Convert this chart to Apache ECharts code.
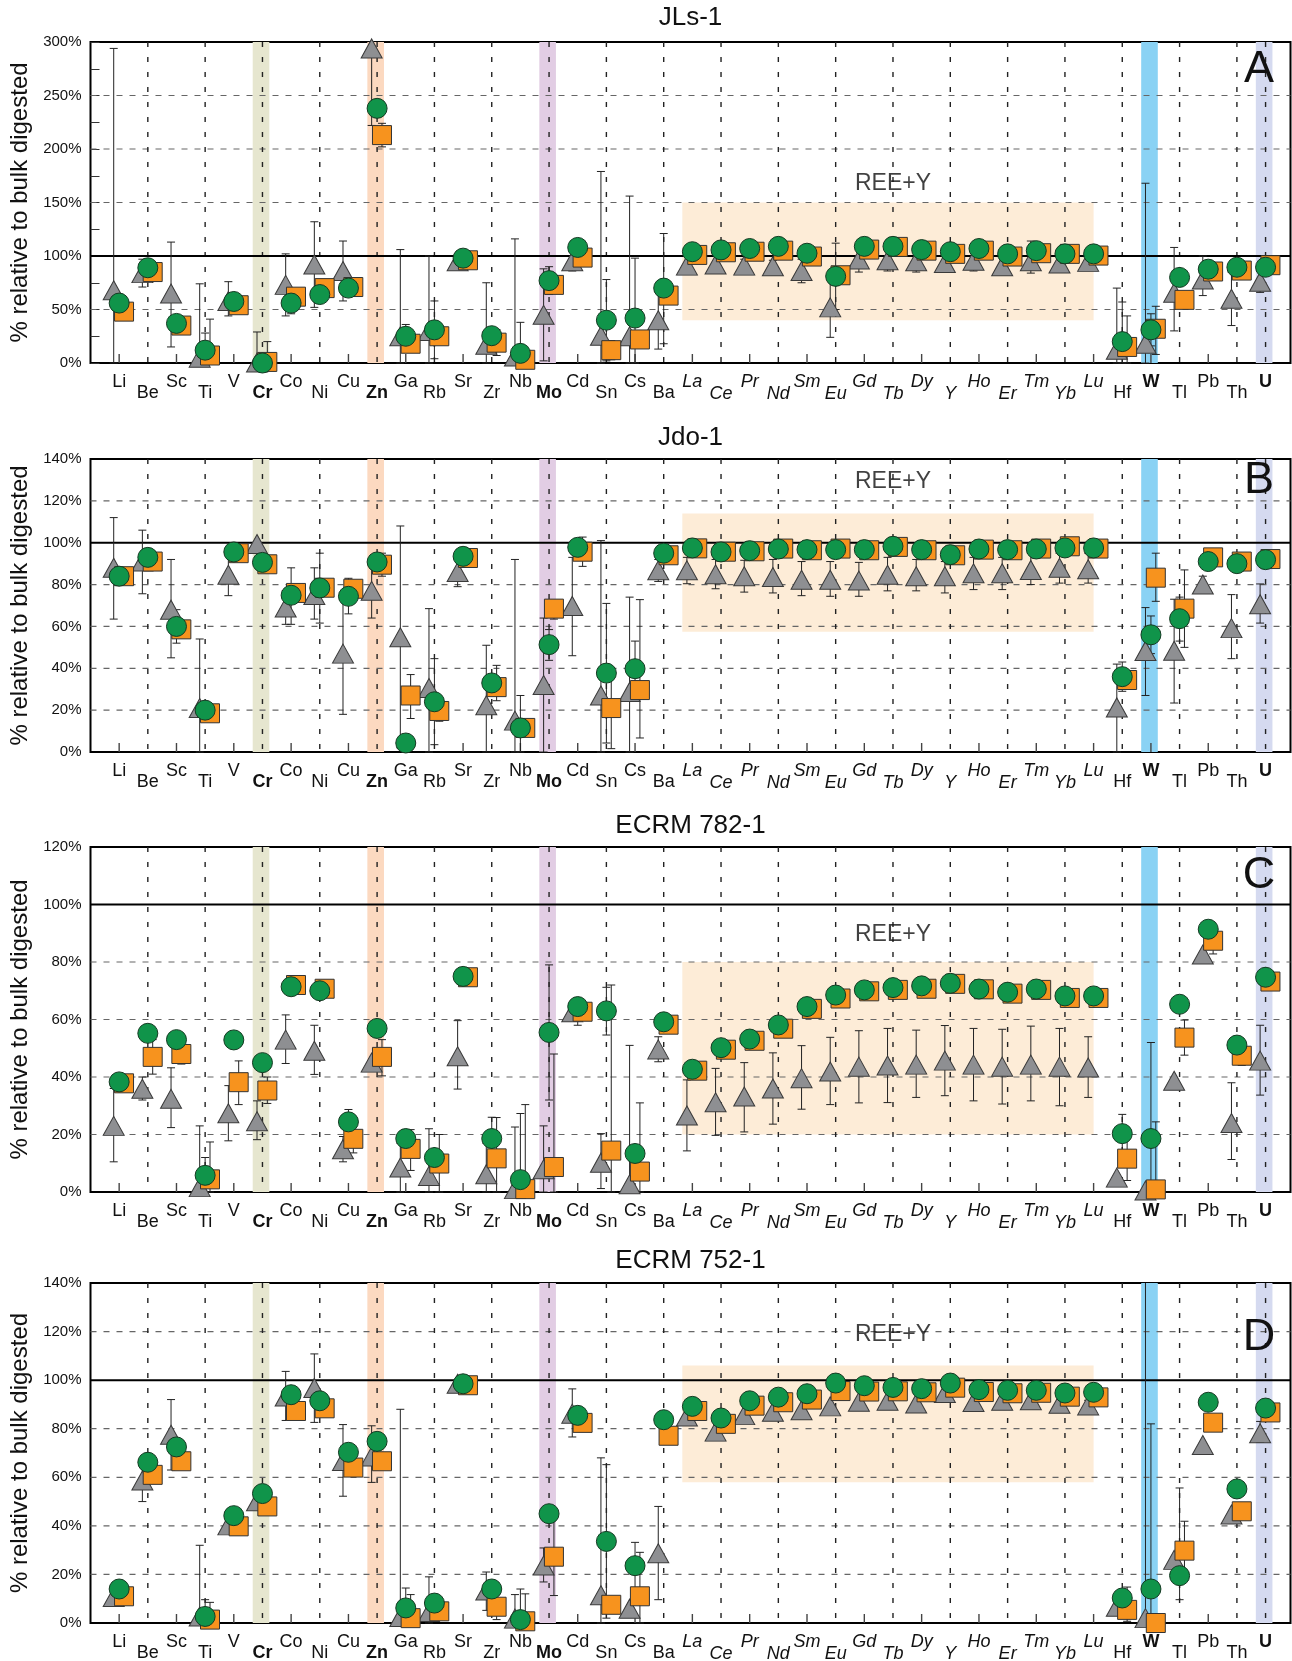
<!DOCTYPE html>
<html>
<head>
<meta charset="utf-8">
<script src="https://cdn.jsdelivr.net/npm/echarts@6/dist/echarts.min.js"></script>
<style>
  html, body { margin: 0; padding: 0; background: #fff; }
  #chart { width: 1292px; height: 1661px; }
</style>
</head>
<body>
<div id="chart"></div>
<script>
// Elements along the x axis
const elements = ['Li','Be','Sc','Ti','V','Cr','Co','Ni','Cu','Zn','Ga','Rb','Sr','Zr','Nb','Mo','Cd','Sn','Cs','Ba',
  'La','Ce','Pr','Nd','Sm','Eu','Gd','Tb','Dy','Y','Ho','Er','Tm','Yb','Lu','Hf','W','Tl','Pb','Th','U'];
const boldElements = ['Cr','Zn','Mo','W','U'];
const reeElements = ['La','Ce','Pr','Nd','Sm','Eu','Gd','Tb','Dy','Y','Ho','Er','Tm','Yb','Lu'];
const bandElements = ['Cr','Zn','Mo','W','U'];

// JLs-1 (% relative to bulk digested)
const jlsTri = [68, 84, 65, 5, 58, 0.5, 73, 92, 86, 294, 25, 30, 95, 17, 6, 45, 95, 25.5, 25, 40,
  91, 92, 91, 90.5, 86, 52, 96.7, 96, 95, 93.5, 95.5, 90.5, 95, 93, 94.5, 12.4, 18, 65.6, 78, 60, 76];
const jlsCir = [56, 89, 37, 12, 57.5, 0, 56, 64, 70, 238, 25, 31, 98, 25.5, 9, 77, 108, 40, 42, 70,
  104, 105.7, 107, 109, 102.6, 81, 109, 109, 106, 104, 107, 102, 105, 102, 102, 20, 31, 80, 87.7, 89.5, 89.5];
const jlsSq = [48, 85, 35, 7, 54, 1, 62, 70, 71, 213, 18, 25, 96, 19, 3, 73, 98.5, 12, 22, 63,
  101, 103.5, 104, 105, 99.5, 82, 106, 108.5, 105, 102, 105, 99.5, 102.6, 102, 100.4, 15, 32, 59, 85.5, 86.4, 91.4];
const jlsTriErr = {Li:[0,294], Be:[71,97], Sc:[15,113], Ti:[0,74], V:[44,76], Cr:[0,29], Co:[44,102], Ni:[52,132],
  Cu:[58,114], Zn:[222,366], Ga:[0,106], Rb:[0,100], Zr:[0,75], Nb:[0,116], Mo:[2,88], Cd:[86,104], Sn:[0,179],
  Cs:[0,156], Ba:[13,67], Pr:[85,97], Nd:[85,96], Sm:[75,97], Eu:[24,80], Gd:[85,108], Tb:[86,106], Dy:[85,105],
  Ho:[86,105], Tm:[84,114], Hf:[0,70], W:[0,168], Tl:[30,108], Pb:[63,100], Th:[35,85], U:[66,86]};
const jlsCirErr = {Ti:[0,28], Co:[46,66], Ga:[14,36], Rb:[4,58], Nb:[0,38], Mo:[64,90], Sn:[2,78], Cs:[0,98],
  Ba:[18,121], Eu:[50,112], Hf:[0,57], W:[16,46]};
const jlsSqErr = {Ti:[0,41], Cr:[0,20], Zn:[202,224], Zr:[7,31], Sn:[3,21], Hf:[0,44], W:[8,53]};

// Jdo-1
const jdoTri = [88, 91, 68, 21, 84.7, 99.4, 69, 75, 47, 77, 54.8, 30.6, 86, 22.3, 15, 32, 69.8, 27, 28.7, 86.8,
  86.8, 84.9, 84, 83.6, 82.3, 82.3, 81.9, 84.7, 84, 84, 85.4, 85.4, 87, 88, 87.3, 21.3, 48.3, 48.4, 80, 59.2, 70.6];
const jdoCir = [84, 93, 60, 20, 95.6, 90.6, 74.9, 78.4, 74.4, 90.8, 4.3, 24, 93.5, 33, 11.5, 51.3, 97.8, 37.7, 39.8, 95,
  97.5, 95.6, 96.2, 97, 96.7, 96.7, 96.7, 98.3, 96.7, 94.3, 97, 96.7, 97, 97.5, 97.5, 36, 56, 63.7, 91, 90, 91.9];
const jdoSq = [84, 91, 58.6, 18.5, 95, 89.7, 76, 78.5, 78, 89.5, 27, 19.6, 92.7, 31, 11.5, 68.5, 95.7, 21, 29.6, 94,
  97.3, 95.7, 95.9, 97.2, 96.4, 97.2, 96.4, 98, 96.4, 94, 96.7, 96.4, 97.2, 98.3, 97.2, 34.4, 83.3, 68.5, 93, 91, 92.2];
const jdoTriErr = {Li:[63.5,112], Be:[75.6,106], Sc:[45,92], Ti:[0,54], V:[74.7,94.7], Co:[61,77], Ni:[63.5,88],
  Cu:[18,76], Zn:[64,90], Ga:[2,108], Rb:[0,68.5], Sr:[79,93], Zr:[0,51], Nb:[0,92], Mo:[0,64], Cd:[46,93],
  Sn:[0,101], Cs:[0,74], Ba:[81.5,92], La:[80.4,93], Ce:[78,92], Pr:[76.4,91.6], Nd:[76,92], Sm:[74.7,91],
  Eu:[74.4,91], Gd:[74.4,90.6], Tb:[77,93], Dy:[77,92], Y:[76,91], Ho:[77.6,93], Er:[77.6,93], Tm:[80,95],
  Yb:[80.7,95], Lu:[80.7,95], Hf:[0,42], W:[27,69], Tl:[23.4,73], Pb:[76,84], Th:[44.6,75.2], U:[61.6,80.3]};
const jdoCirErr = {Sc:[52,68], Co:[61,88], Ni:[61.6,95], Cu:[66,83], Rb:[3.5,44.6], Nb:[0,27], Mo:[43.8,58.5],
  Sn:[4.3,71], Cs:[27,53], Hf:[29,43], W:[47,65], Tl:[53,74]};
const jdoSqErr = {Zn:[84,95], Ga:[16,37], Rb:[14.7,25], Zr:[24.5,41.4], Mo:[63.5,71], Cd:[88.7,102.7],
  Sn:[1.6,40], Cs:[6.7,72.8], W:[72,95], Tl:[50,87]};

// ECRM 782-1
const e782Tri = [23, 35.9, 32.4, 1.7, 27.4, 24.6, 53, 49.1, 14.9, 45, 8.5, 5.6, 47.2, 6.2, 1, 7.9, 62.5, 10.2, 2.7, 49.6,
  26.6, 31.2, 33.2, 36, 39.6, 41.9, 43.6, 44, 44.3, 45.7, 44.3, 43.6, 44.3, 43.6, 43.3, 5, 0.5, 38.7, 82.6, 24, 45.7];
const e782Cir = [38.3, 55.2, 53, 5.8, 52.9, 45, 71.4, 70, 24.4, 56.9, 18.6, 12, 75, 18.6, 4.3, 55.5, 64.5, 63, 13.4, 59.2,
  42.7, 50.2, 53.2, 58.1, 64.5, 68.5, 70.3, 71.1, 71.7, 72.6, 70.6, 69.5, 70.6, 68.2, 68.2, 20.3, 18.6, 65.3, 91.4, 51.1, 74.7];
const e782Sq = [37.8, 47, 48, 4.4, 38.2, 35.3, 72, 70.7, 18.5, 47, 15, 9.9, 74.7, 11.7, 1, 8.7, 62.7, 14.4, 7.1, 58.2,
  42.2, 49.5, 52.6, 56.8, 63.7, 67.3, 69.8, 70.3, 70.7, 72.4, 70.5, 69, 70.3, 67.5, 67.5, 11.6, 0.9, 53.7, 87.4, 47.4, 73.2];
const e782TriErr = {Li:[10.5,36], Be:[32,40], Sc:[22.4,43.2], Ti:[0,23], V:[17.8,37], Cr:[18.2,31.7], Co:[44.7,61.6],
  Ni:[40.9,58], Cu:[10.5,19.3], Ga:[0,17], Rb:[0,22], Sr:[35.8,59.6], Zr:[0,17], Nb:[0,22.6], Mo:[0,23],
  Sn:[1.2,20.3], Cs:[0,51], Ba:[45.3,54], La:[14.3,39], Ce:[19.7,43], Pr:[20.9,45], Nd:[23.6,48.4], Sm:[28.8,50.9],
  Eu:[30.4,53.8], Gd:[31,56.1], Tb:[31.1,56.9], Dy:[32.9,56.3], Y:[33.5,57.9], Ho:[31.7,56.9], Er:[30.6,56.6],
  Tm:[31.7,57.7], Yb:[30,56.9], Lu:[32.9,54], Th:[11.3,38], U:[33.7,58]};
const e782CirErr = {Ti:[0,12], Cu:[20,28.7], Ga:[15.5,21.7], Zr:[11,26], Nb:[0,27.3], Mo:[32,79], Cd:[58,67.4],
  Sn:[54.6,71.2], Hf:[14,27], W:[0,52]};
const e782SqErr = {Be:[41,53], Sc:[44.5,51.5], Ti:[0,17.4], V:[30.4,45.6], Cr:[30.8,40], Cu:[13.6,23.4], Zn:[40.4,53],
  Ga:[7.5,21.7], Rb:[0,20], Zr:[0,25.9], Nb:[0,30.4], Mo:[0,48], Sn:[0,72], Cs:[0,31], Hf:[4,20], W:[0,24.4],
  Tl:[47.6,59.8], Pb:[82.8,92], Th:[44,50.8]};

// ECRM 752-1
const e752Tri = [10.7, 58.7, 77.5, 2.7, 40.2, 50.1, 93.3, 96.8, 66.7, 68.6, 2.5, 4.5, 98.5, 13.4, 1.8, 23.7, 86.2, 11.4, 5.9, 28.7,
  85, 78.8, 85.6, 87, 87.6, 89.2, 91.1, 91.5, 90.4, 94.7, 91, 91.5, 91.7, 90.3, 89.6, 6.7, 2, 26, 73.3, 44.7, 78.1];
const e752Cir = [14, 66.2, 72.5, 2.7, 44.2, 53.3, 94, 91.5, 70.3, 74.8, 6.2, 8.2, 98.5, 14, 1.4, 45, 85.5, 33.6, 23.6, 83.7,
  89.2, 84.4, 91.5, 93, 94.4, 98.8, 97.7, 97, 96.5, 98.8, 96.1, 95.8, 95.8, 94.7, 95, 10.3, 14, 19.5, 90.9, 55.2, 88.5];
const e752Sq = [11, 61, 66.6, 1.4, 39.8, 48, 87.3, 88.4, 64, 66.6, 2, 4.8, 97.9, 6.7, 0.7, 27.3, 82.4, 7.5, 11, 77.1,
  87.3, 82, 89.5, 90.9, 92, 95.5, 95.3, 95.4, 95, 96.9, 95.1, 94.6, 94.8, 93.2, 92.9, 5.4, 0, 29.8, 82.5, 46, 86.7];
const e752TriErr = {Li:[6.9,14.5], Be:[50,67], Sc:[63,92], Ti:[0,32], Co:[83.4,103.6], Ni:[82.6,110.8], Cu:[52.2,81.7],
  Zn:[57.9,81.2], Ga:[0,88], Rb:[0,19], Zr:[5.2,21], Nb:[0,11.7], Mo:[16.9,30.9], Cd:[76.6,96.4], Sn:[0,68],
  Ba:[9.6,48], Lu:[87.5,91.7], W:[0,160], U:[74.4,83]};
const e752CirErr = {Li:[11,16.5], Ti:[0,9.6], Cr:[51,55.6], Ga:[0,14.4], Nb:[0,14], Sn:[2,65.2], Cs:[13,33.2],
  W:[0,82], Tl:[9.6,55.6]};
const e752SqErr = {Ti:[0,8.5], Ga:[0,11.7], Zr:[1.4,12], Nb:[0,12], Mo:[11.3,43.3], Cs:[0,29.1], Hf:[0.7,14.8],
  Tl:[17.7,41.9]};

// Per-panel axis ranges and shaded REE window
const panelTitles = ['JLs-1', 'Jdo-1', 'ECRM 782-1', 'ECRM 752-1'];
const panelLetters = ['A', 'B', 'C', 'D'];
const yMaxes = [300, 140, 120, 140];
const ySteps = [50, 20, 20, 20];
const reeWindows = [[40, 150], [57.5, 114], [20, 80], [58, 106]];
const reeLabelLevels = [168, 129, 89.4, 118.6];

const panels = [
  { tri: jlsTri, cir: jlsCir, sq: jlsSq, triErr: jlsTriErr, cirErr: jlsCirErr, sqErr: jlsSqErr },
  { tri: jdoTri, cir: jdoCir, sq: jdoSq, triErr: jdoTriErr, cirErr: jdoCirErr, sqErr: jdoSqErr },
  { tri: e782Tri, cir: e782Cir, sq: e782Sq, triErr: e782TriErr, cirErr: e782CirErr, sqErr: e782SqErr },
  { tri: e752Tri, cir: e752Cir, sq: e752Sq, triErr: e752TriErr, cirErr: e752CirErr, sqErr: e752SqErr }
];

// Layout (pixels)
const FONT = '"Liberation Sans", Arial, Helvetica, sans-serif';
const gridLeft = 90.5, gridWidth = 1200;
const gridTops = [42, 459, 847, 1283];
const gridHeights = [321, 293, 345, 340];
const titleY = [18, 438, 826, 1261];
const letterY = [70, 481, 876, 1338];
const X_MIN = -1, X_MAX = 40.87;
const OFFSET = { tri: -0.19, cir: 0, sq: 0.17 };
const bandColors = ['#e6e6cf', '#fcd9c0', '#e2cde4', '#8ad2f4', '#d5daf0'];

const chart = echarts.init(document.getElementById('chart'), null, { renderer: 'canvas' });

// Element labels alternate between two rows; major elements bold, REE+Y italic
function labelFormatter(v) {
  const i = Math.round(v);
  if (i < 0 || i >= elements.length || Math.abs(v - i) > 1e-6) return '';
  const name = elements[i];
  let key = i % 2 === 0 ? 'up' : 'lo';
  if (boldElements.includes(name)) key += 'B';
  else if (reeElements.includes(name)) key += 'I';
  return '{' + key + '|' + name + '}';
}
const upRow = { fontSize: 18, lineHeight: 20, color: '#111', fontFamily: FONT };
const loRow = { fontSize: 18, lineHeight: 43, color: '#111', fontFamily: FONT };
const rich = {
  up: Object.assign({}, upRow),
  upB: Object.assign({}, upRow, { fontWeight: 'bold' }),
  upI: Object.assign({}, upRow, { fontStyle: 'italic' }),
  lo: Object.assign({}, loRow),
  loB: Object.assign({}, loRow, { fontWeight: 'bold' }),
  loI: Object.assign({}, loRow, { fontStyle: 'italic' })
};

function decoRenderer(p) {
  return function (params, api) {
    const cs = params.coordSys;
    const top = cs.y, bot = cs.y + cs.height, left = cs.x, right = cs.x + cs.width;
    const kids = [];
    bandElements.forEach((name, k) => {
      const i = elements.indexOf(name);
      const xa = api.coord([i - 0.34, 0])[0];
      const xb = api.coord([i + 0.24, 0])[0];
      kids.push({ type: 'rect', shape: { x: xa, y: top, width: xb - xa, height: bot - top },
        style: { fill: bandColors[k] } });
    });
    const r0 = api.coord([elements.indexOf('Ba') + 0.65, reeWindows[p][1]]);
    const r1 = api.coord([elements.indexOf('Lu'), reeWindows[p][0]]);
    kids.push({ type: 'rect', shape: { x: r0[0], y: r0[1], width: r1[0] - r0[0], height: r1[1] - r0[1] },
      style: { fill: '#fdecd7' } });
    // horizontal grid
    for (let v = ySteps[p]; v < yMaxes[p] - 1e-9; v += ySteps[p]) {
      if (v === 100) continue;
      const y = api.coord([0, v])[1];
      kids.push({ type: 'line', shape: { x1: left, y1: y, x2: right, y2: y },
        style: { stroke: '#666', lineWidth: 1.2, lineDash: [6, 7] } });
    }
    // vertical grid and short ticks
    elements.forEach((name, i) => {
      const x = api.coord([i, 0])[0];
      if (i % 2 === 1 || i === elements.length - 1) {
        kids.push({ type: 'line', shape: { x1: x, y1: top, x2: x, y2: bot },
          style: { stroke: '#222', lineWidth: 1.4, lineDash: [5, 10] } });
      } else {
        kids.push({ type: 'line', shape: { x1: x, y1: bot - 9, x2: x, y2: bot },
          style: { stroke: '#444', lineWidth: 1.4 } });
      }
    });
    // 100 % reference
    const y100 = api.coord([0, 100])[1];
    kids.push({ type: 'line', shape: { x1: left, y1: y100, x2: right, y2: y100 },
      style: { stroke: '#000', lineWidth: 2 } });
    return { type: 'group', children: kids };
  };
}

function errRenderer(params, api) {
  const cs = params.coordSys;
  const top = cs.y, bot = cs.y + cs.height;
  const x = api.value(0);
  const pLo = api.coord([x, api.value(1)]);
  const pHi = api.coord([x, api.value(2)]);
  const px = pLo[0];
  const y1 = Math.min(bot, pLo[1]), y2 = Math.max(top, pHi[1]);
  const st = { stroke: '#222', lineWidth: 1 };
  const kids = [{ type: 'line', shape: { x1: px, y1: y1, x2: px, y2: y2 }, style: st }];
  if (pHi[1] >= top) kids.push({ type: 'line', shape: { x1: px - 4, y1: pHi[1], x2: px + 4, y2: pHi[1] }, style: st });
  if (pLo[1] <= bot) kids.push({ type: 'line', shape: { x1: px - 4, y1: pLo[1], x2: px + 4, y2: pLo[1] }, style: st });
  return { type: 'group', children: kids };
}

function errData(errs, off) {
  return Object.keys(errs).map(name => [elements.indexOf(name) + off, errs[name][0], errs[name][1]]);
}
function pointData(vals, off) {
  return vals.map((v, i) => [i + off, v]);
}

const grids = [], xAxes = [], yAxes = [], series = [], graphics = [];
panels.forEach((pd, p) => {
  grids.push({ left: gridLeft, width: gridWidth, top: gridTops[p], height: gridHeights[p],
    show: true, borderColor: '#000', borderWidth: 2, backgroundColor: 'transparent',
    containLabel: false, outerBoundsMode: 'none' });
  xAxes.push({ type: 'value', gridIndex: p, min: X_MIN, max: X_MAX, interval: 1,
    axisLine: { show: false, onZero: false }, axisTick: { show: false }, splitLine: { show: false },
    axisLabel: { show: true, formatter: labelFormatter, rich: rich, margin: 9, hideOverlap: false,
      showMinLabel: true, showMaxLabel: false } });
  yAxes.push({ type: 'value', gridIndex: p, min: 0, max: yMaxes[p], interval: ySteps[p],
    name: '% relative to bulk digested', nameLocation: 'middle', nameGap: 51,
    nameTextStyle: { fontSize: 24, color: '#111', fontFamily: FONT },
    axisLine: { show: false, onZero: false },
    axisTick: { show: p === 0, inside: true, length: 9, lineStyle: { color: '#333' } },
    minorTick: { show: p === 0, splitNumber: 2, length: 9, lineStyle: { color: '#333' } },
    splitLine: { show: false },
    axisLabel: { formatter: '{value}%', fontSize: 15, color: '#111', fontFamily: FONT, margin: 9 } });

  series.push({ type: 'custom', name: 'frame' + p, xAxisIndex: p, yAxisIndex: p, silent: true, z: 1,
    renderItem: decoRenderer(p), data: [[0, 0]] });

  [['tri', pd.triErr], ['sq', pd.sqErr], ['cir', pd.cirErr]].forEach(([k, errs]) => {
    series.push({ type: 'custom', name: k + 'Err' + p, xAxisIndex: p, yAxisIndex: p, silent: true, z: 2,
      renderItem: errRenderer, encode: { x: 0, y: [1, 2] }, data: errData(errs, OFFSET[k]) });
  });

  series.push({ type: 'scatter', name: 'tri' + p, xAxisIndex: p, yAxisIndex: p, z: 3, clip: false,
    symbol: 'triangle', symbolSize: [21, 19], data: pointData(pd.tri, OFFSET.tri),
    itemStyle: { color: '#8e8f92', borderColor: '#3a3a3a', borderWidth: 1, opacity: 1 } });
  series.push({ type: 'scatter', name: 'sq' + p, xAxisIndex: p, yAxisIndex: p, z: 3, clip: false,
    symbol: 'rect', symbolSize: 19, data: pointData(pd.sq, OFFSET.sq),
    itemStyle: { color: '#f7931e', borderColor: '#333', borderWidth: 1, opacity: 1 } });
  series.push({ type: 'scatter', name: 'cir' + p, xAxisIndex: p, yAxisIndex: p, z: 3, clip: false,
    symbol: 'circle', symbolSize: 20, data: pointData(pd.cir, OFFSET.cir),
    itemStyle: { color: '#10944a', borderColor: '#143a22', borderWidth: 1, opacity: 1 } });

  series.push({ type: 'scatter', name: 'ree' + p, xAxisIndex: p, yAxisIndex: p, z: 4, silent: true,
    symbolSize: 0, data: [[elements.indexOf('Tb'), reeLabelLevels[p]]],
    label: { show: true, position: 'inside', formatter: 'REE+Y', fontSize: 23, color: '#111', fontFamily: FONT } });

  graphics.push({ type: 'text', x: gridLeft + gridWidth / 2, y: titleY[p], z: 100,
    style: { text: panelTitles[p], font: '26px ' + FONT, fill: '#111', textAlign: 'center', textVerticalAlign: 'middle' } });
  graphics.push({ type: 'text', x: 1259, y: letterY[p], z: 100,
    style: { text: panelLetters[p], font: '45px ' + FONT, fill: '#111', textAlign: 'center', textVerticalAlign: 'middle' } });
});

chart.setOption({
  animation: false,
  backgroundColor: '#fff',
  textStyle: { fontFamily: FONT },
  grid: grids,
  xAxis: xAxes,
  yAxis: yAxes,
  series: series,
  graphic: graphics
});
</script>
</body>
</html>
